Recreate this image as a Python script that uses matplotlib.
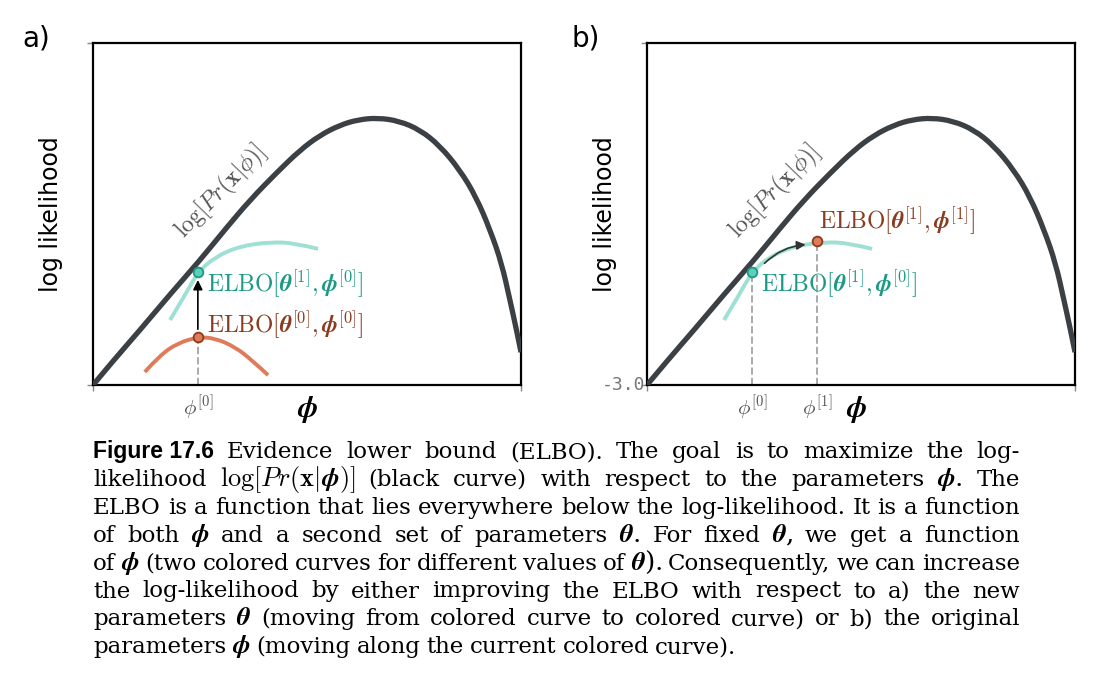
import re
import numpy as np
import matplotlib
matplotlib.use("Agg")
import matplotlib.pyplot as plt
from matplotlib.path import Path
from matplotlib.patches import PathPatch

plt.rcParams['mathtext.fontset'] = 'cm'

# data (normalized phi, log-likelihood)
ll_x = [0.0, 0.05, 0.110, 0.18, 0.250, 0.31, 0.367, 0.43, 0.484, 0.53, 0.577, 0.62, 0.666, 0.715, 0.764, 0.81, 0.857, 0.895, 0.928, 0.955, 0.974, 0.988, 1.0]
ll_y = [0.0, 0.075, 0.161, 0.265, 0.365, 0.457, 0.541, 0.622, 0.687, 0.730, 0.760, 0.776, 0.781, 0.772, 0.746, 0.700, 0.629, 0.550, 0.453, 0.355, 0.249, 0.170, 0.096]
teal_x = [0.180, 0.215, 0.245, 0.285, 0.343, 0.414, 0.472, 0.526]
teal_y = [0.190, 0.263, 0.330, 0.374, 0.406, 0.418, 0.415, 0.398]
coral_x = [0.121, 0.157, 0.199, 0.245, 0.285, 0.332, 0.371, 0.409]
coral_y = [0.038, 0.088, 0.123, 0.140, 0.137, 0.111, 0.073, 0.029]
phi0 = 0.245
phi1 = 0.397
elbo00 = 0.140
elbo10 = 0.330
elbo11 = 0.421

DARK = '#3b4045'
TEAL = '#9ee0d3'
TEALD = '#1a9985'
TEALM = '#5ecdb9'
CORAL = '#e07b5a'
CORALD = '#8a3b20'

fig = plt.figure(figsize=(11.08, 6.94), dpi=100)
W, H = 1108, 694


def smooth(ax, xs, ys, color, lw, z):
    pts = list(zip(xs, ys))
    verts = [pts[0]]
    codes = [Path.MOVETO]
    for i in range(1, len(pts) - 1):
        mid = ((pts[i][0] + pts[i + 1][0]) / 2, (pts[i][1] + pts[i + 1][1]) / 2)
        if i == len(pts) - 2:
            mid = pts[-1]
        verts += [pts[i], mid]
        codes += [Path.CURVE3, Path.CURVE3]
    ax.add_patch(PathPatch(Path(verts, codes), fill=False, edgecolor=color, lw=lw,
                           capstyle='butt', zorder=z))


def mkax(x0):
    ax = fig.add_axes([x0 / W, 1 - 385 / H, 428 / W, 342 / H])
    ax.set_xlim(0, 1); ax.set_ylim(0, 1)
    for s in ax.spines.values():
        s.set_linewidth(1.6); s.set_color('black')
    ax.set_xticks([0, 1]); ax.set_yticks([0, 1])
    ax.set_xticklabels([]); ax.set_yticklabels([])
    ax.tick_params(length=4, width=1, color='#888888')
    ax.set_ylabel('log likelihood', fontsize=17, labelpad=14)
    smooth(ax, ll_x, ll_y, DARK, 3.8, 3)
    smooth(ax, teal_x, teal_y, TEAL, 2.8, 2)
    return ax


ELBO10 = r'$\mathrm{ELBO}[\boldsymbol{\theta}^{[1]},\boldsymbol{\phi}^{[0]}]$'
LOGL = r'$\log[Pr(\mathbf{x}|\phi)]$'

# panel a
ax = mkax(93)
smooth(ax, coral_x, coral_y, CORAL, 2.8, 2)
ax.plot([phi0, phi0], [0, elbo00], ls='--', color='#aaaaaa', lw=1.4, zorder=1)
ax.annotate('', xy=(phi0, elbo10 - 0.015), xytext=(phi0, elbo00 + 0.015),
            arrowprops=dict(arrowstyle='-|>', color='black', lw=1.2, mutation_scale=14), zorder=4)
ax.plot(phi0, elbo10, 'o', ms=7, mfc=TEALM, mec=TEALD, mew=1.3, zorder=5)
ax.plot(phi0, elbo00, 'o', ms=7, mfc=CORAL, mec=CORALD, mew=1.3, zorder=5)
ax.text(phi0 + 0.022, elbo10 - 0.035, ELBO10, color=TEALD, fontsize=17, va='center')
ax.text(phi0 + 0.022, elbo00 + 0.035,
        r'$\mathrm{ELBO}[\boldsymbol{\theta}^{[0]},\boldsymbol{\phi}^{[0]}]$',
        color=CORALD, fontsize=17, va='center')
ax.text(0.3, 0.565, LOGL, rotation=46, fontsize=17, color='#555555',
        ha='center', va='center', rotation_mode='anchor')
ax.text(phi0, -0.025, r'$\phi^{[0]}$', fontsize=15, color='#555555', ha='center', va='top')
ax.text(0.5, -0.025, r'$\boldsymbol{\phi}$', fontsize=22, ha='center', va='top')
fig.text(22 / W, 1 - 38 / H, 'a)', fontsize=20, va='center')

# panel b
bx = mkax(647)
bx.plot([phi0, phi0], [0, elbo10], ls='--', color='#aaaaaa', lw=1.4, zorder=1)
bx.plot([phi1, phi1], [0, elbo11], ls='--', color='#aaaaaa', lw=1.4, zorder=1)
bx.annotate('', xy=(phi1 - 0.02, elbo11 - 0.01), xytext=(phi0 + 0.025, elbo10 + 0.02),
            arrowprops=dict(arrowstyle='-|>', color='#333333', lw=1.2, mutation_scale=13,
                            connectionstyle='arc3,rad=-0.2'), zorder=4)
bx.plot(phi0, elbo10, 'o', ms=7, mfc=TEALM, mec=TEALD, mew=1.3, zorder=5)
bx.plot(phi1, elbo11, 'o', ms=7, mfc=CORAL, mec=CORALD, mew=1.3, zorder=5)
bx.text(phi0 + 0.022, elbo10 - 0.035, ELBO10, color=TEALD, fontsize=17, va='center')
bx.text(phi1 + 0.005, elbo11 + 0.06,
        r'$\mathrm{ELBO}[\boldsymbol{\theta}^{[1]},\boldsymbol{\phi}^{[1]}]$',
        color=CORALD, fontsize=17, va='center')
bx.text(0.3, 0.565, LOGL, rotation=46, fontsize=17, color='#555555',
        ha='center', va='center', rotation_mode='anchor')
bx.text(phi0, -0.025, r'$\phi^{[0]}$', fontsize=15, color='#555555', ha='center', va='top')
bx.text(phi1, -0.025, r'$\phi^{[1]}$', fontsize=15, color='#555555', ha='center', va='top')
bx.text(0.49, -0.025, r'$\boldsymbol{\phi}$', fontsize=22, ha='center', va='top')
bx.text(-0.003, 0.0, '-3.0', fontsize=13, family='DejaVu Sans Mono', color='#777777',
        ha='right', va='center')
fig.text(572 / W, 1 - 38 / H, 'b)', fontsize=20, va='center')

# caption with justification
lines = [
    "Evidence lower bound (ELBO). The goal is to maximize the log-",
    r"likelihood $\log[Pr(\mathbf{x}|\boldsymbol{\phi})]$ (black curve) with respect to the parameters $\boldsymbol{\phi}$.  The",
    "ELBO is a function that lies everywhere below the log-likelihood. It is a function",
    r"of both $\boldsymbol{\phi}$ and a second set of parameters $\boldsymbol{\theta}$.  For fixed $\boldsymbol{\theta}$, we get a function",
    r"of $\boldsymbol{\phi}$ (two colored curves for different values of $\boldsymbol{\theta}$). Consequently, we can increase",
    "the log-likelihood by either improving the ELBO with respect to a) the new",
    r"parameters $\boldsymbol{\theta}$ (moving from colored curve to colored curve) or b) the original",
    r"parameters $\boldsymbol{\phi}$ (moving along the current colored curve).",
]
x_left, x_right = 93, 1020
fs = 16.5
fig.canvas.draw()
r = fig.canvas.get_renderer()
for i, line in enumerate(lines):
    y = 1 - (452 + 27.9 * i) / H
    words = []
    if i == 0:
        words.append(('Figure 17.6', dict(family='Liberation Sans', weight='bold', fontsize=fs)))
    toks = re.findall(r'\$[^$]*\$[^\s]*|[^\s$]+', line)
    for t in toks:
        size = fs * 1.15 if '$' in t else fs
        words.append((t, dict(family='DejaVu Serif', fontsize=size)))
    objs = [fig.text(0, y, w, va='baseline', **kw) for w, kw in words]
    for o in objs:
        o.set_y(y - 6 / H)
    widths = [o.get_window_extent(r).width for o in objs]
    space = 6.0
    if i < len(lines) - 1:
        space = (x_right - x_left - sum(widths)) / (len(objs) - 1)
    x = x_left
    for o, wd in zip(objs, widths):
        o.set_x(x / W)
        x += wd + space

fig.savefig('out.png', dpi=100)
